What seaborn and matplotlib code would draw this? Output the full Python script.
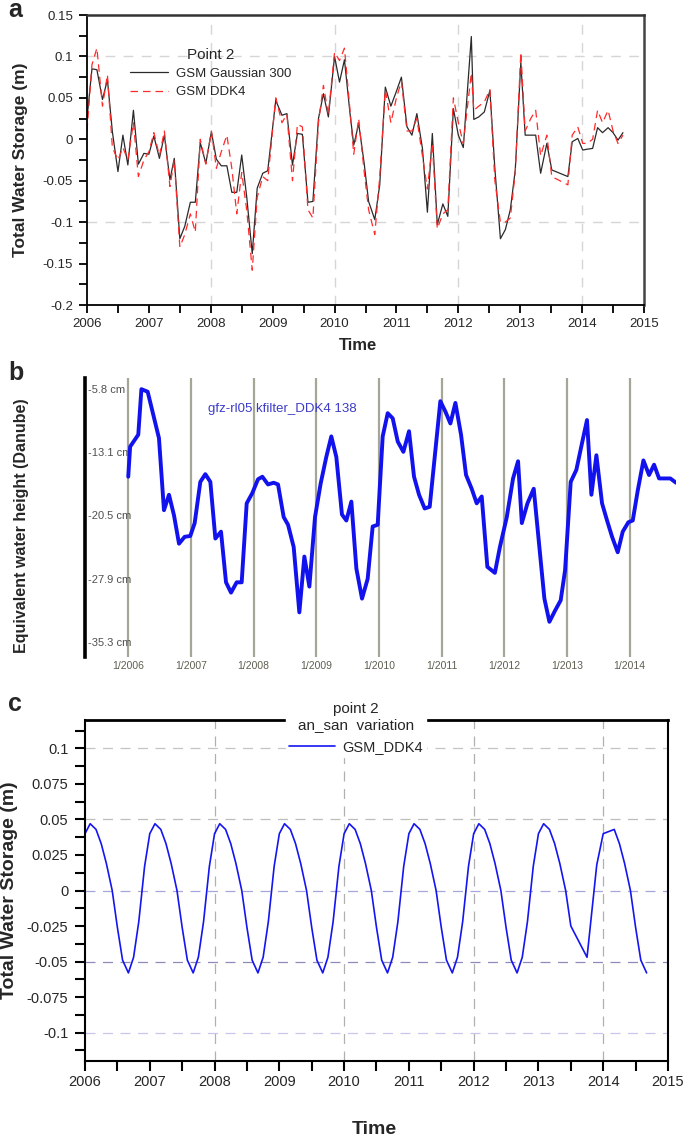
import matplotlib
matplotlib.use("Agg")
import matplotlib.pyplot as plt
import seaborn as sns
import pandas as pd

# ---------------- Panel a data ----------------
a_time = [2006.00, 2006.08, 2006.16, 2006.25, 2006.33, 2006.41, 2006.50, 2006.58, 2006.66, 2006.75, 2006.83, 2006.92,
          2007.00, 2007.08, 2007.17, 2007.25, 2007.34, 2007.41, 2007.50, 2007.58, 2007.67, 2007.75, 2007.83, 2007.92,
          2008.01, 2008.09, 2008.17, 2008.26, 2008.34, 2008.42, 2008.50, 2008.58, 2008.67, 2008.75, 2008.84, 2008.92,
          2009.05, 2009.15, 2009.23, 2009.32, 2009.40, 2009.48, 2009.57, 2009.65, 2009.74, 2009.82, 2009.90,
          2010.00, 2010.08, 2010.16, 2010.25, 2010.31, 2010.39, 2010.48, 2010.55, 2010.65, 2010.73, 2010.82, 2010.91,
          2011.00, 2011.08, 2011.17, 2011.25, 2011.33, 2011.42, 2011.50, 2011.58, 2011.66, 2011.75, 2011.83, 2011.92,
          2012.00, 2012.08, 2012.21, 2012.25, 2012.33, 2012.42, 2012.51, 2012.59, 2012.68, 2012.76, 2012.84, 2012.92,
          2013.01, 2013.08, 2013.17, 2013.25, 2013.33, 2013.43, 2013.51, 2013.77, 2013.84, 2013.93,
          2014.01, 2014.08, 2014.17, 2014.25, 2014.33, 2014.42, 2014.50, 2014.58, 2014.66]
a_gaussian300 = [0.025, 0.085, 0.084, 0.048, 0.072, 0.009, -0.039, 0.005, -0.031, 0.035, -0.030, -0.017,
                 -0.018, 0.004, -0.023, 0.005, -0.049, -0.023, -0.120, -0.105, -0.076, -0.076, -0.004, -0.029,
                 0.009, -0.024, -0.032, -0.032, -0.064, -0.064, -0.019, -0.069, -0.138, -0.059, -0.041, -0.038,
                 0.047, 0.029, 0.031, -0.031, 0.007, 0.006, -0.076, -0.075, 0.025, 0.055, 0.027,
                 0.100, 0.069, 0.096, 0.031, -0.007, 0.019, -0.030, -0.075, -0.097, -0.055, 0.063, 0.040,
                 0.058, 0.075, 0.015, 0.005, 0.031, -0.011, -0.088, 0.007, -0.103, -0.078, -0.093, 0.037,
                 0.005, -0.010, 0.124, 0.024, 0.027, 0.033, 0.059, -0.035, -0.120, -0.109, -0.085, -0.037,
                 0.093, 0.005, 0.005, 0.005, -0.041, -0.005, -0.037, -0.045, -0.003, 0.001,
                 -0.013, -0.012, -0.011, 0.014, 0.008, 0.014, 0.008, -0.001, 0.008]
a_ddk4 = [0.010, 0.090, 0.110, 0.040, 0.078, -0.010, -0.025, -0.010, -0.025, 0.020, -0.045, -0.025,
          -0.015, 0.008, -0.020, 0.010, -0.057, -0.025, -0.130, -0.115, -0.090, -0.112, 0.000, -0.030,
          0.010, -0.035, -0.015, 0.005, -0.035, -0.090, -0.040, -0.085, -0.158, -0.070, -0.045, -0.050,
          0.050, 0.020, 0.030, -0.050, 0.018, 0.015, -0.085, -0.095, 0.020, 0.065, 0.030,
          0.105, 0.095, 0.110, 0.035, -0.018, 0.025, -0.040, -0.085, -0.115, -0.045, 0.060, 0.020,
          0.050, 0.070, 0.010, 0.010, 0.025, -0.020, -0.060, -0.005, -0.108, -0.090, -0.085, 0.050,
          0.020, -0.005, 0.080, 0.035, 0.040, 0.045, 0.060, -0.050, -0.100, -0.100, -0.095, -0.040,
          0.105, 0.010, 0.025, 0.035, -0.020, 0.005, -0.045, -0.055, 0.005, 0.015,
          -0.005, -0.005, 0.000, 0.035, 0.020, 0.035, 0.010, -0.005, 0.005]
a_series_names = ["GSM Gaussian 300", "GSM DDK4"]
a_yticks = [0.15, 0.1, 0.05, 0, -0.05, -0.1, -0.15, -0.2]
a_yticklabels = ["0.15", "0.1", "0.05", "0", "-0.05", "-0.1", "-0.15", "-0.2"]
a_xticks = [2006, 2007, 2008, 2009, 2010, 2011, 2012, 2013, 2014, 2015]

# ---------------- Panel b data ----------------
b_time = [2006.00, 2006.03, 2006.16, 2006.21, 2006.31, 2006.40, 2006.49, 2006.57, 2006.65, 2006.73, 2006.81, 2006.90, 2006.99,
          2007.06, 2007.15, 2007.23, 2007.31, 2007.39, 2007.48, 2007.56, 2007.64, 2007.73, 2007.81, 2007.89, 2007.98,
          2008.07, 2008.14, 2008.23, 2008.32, 2008.39, 2008.48, 2008.55, 2008.64, 2008.73, 2008.81, 2008.89, 2008.98,
          2009.07, 2009.16, 2009.24, 2009.32, 2009.41, 2009.48, 2009.56, 2009.64, 2009.73, 2009.82, 2009.90, 2009.98,
          2010.06, 2010.14, 2010.22, 2010.30, 2010.39, 2010.48, 2010.56, 2010.64, 2010.73, 2010.81, 2010.98,
          2011.06, 2011.14, 2011.22, 2011.31, 2011.39, 2011.48, 2011.56, 2011.64, 2011.73, 2011.85, 2011.93,
          2012.04, 2012.14, 2012.22, 2012.28, 2012.37, 2012.47, 2012.56, 2012.64, 2012.72, 2012.81, 2012.90, 2012.97,
          2013.06, 2013.15, 2013.24, 2013.32, 2013.39, 2013.47, 2013.56, 2013.64, 2013.72, 2013.81, 2013.89, 2013.98,
          2014.05, 2014.13, 2014.22, 2014.31, 2014.39, 2014.47, 2014.57, 2014.65, 2014.74]
b_ewh_cm = [-16.0, -12.5, -11.1, -5.8, -6.1, -8.8, -11.5, -19.9, -18.1, -20.5, -23.8, -23.0, -22.9,
            -21.4, -16.6, -15.7, -16.6, -23.2, -22.4, -28.3, -29.5, -28.3, -28.3, -19.1, -17.9,
            -16.3, -16.0, -16.9, -16.7, -16.9, -20.7, -21.6, -24.2, -31.8, -25.3, -28.8, -20.7,
            -16.8, -13.7, -11.3, -13.7, -20.4, -21.1, -18.9, -26.7, -30.2, -27.9, -21.8, -21.6,
            -11.3, -8.6, -9.2, -11.9, -13.1, -10.7, -16.0, -18.1, -19.7, -19.5, -7.2,
            -8.4, -9.8, -7.4, -11.1, -15.8, -17.4, -19.1, -18.3, -26.5, -27.2, -24.2,
            -20.7, -16.2, -14.2, -21.4, -19.1, -17.4, -24.2, -30.2, -32.9, -31.6, -30.4, -26.9,
            -16.6, -15.2, -12.1, -9.4, -18.1, -13.5, -19.1, -21.1, -23.0, -24.8, -22.4, -21.3,
            -21.1, -17.6, -14.1, -15.8, -14.6, -16.2, -16.2, -16.2, -16.7]
b_series_name = "gfz-rl05 kfilter_DDK4 138"
b_yticks = [-5.8, -13.1, -20.5, -27.9, -35.3]
b_yticklabels = ["-5.8 cm", "-13.1 cm", "-20.5 cm", "-27.9 cm", "-35.3 cm"]
b_xticks = [2006, 2007, 2008, 2009, 2010, 2011, 2012, 2013, 2014]
b_xticklabels = ["1/2006", "1/2007", "1/2008", "1/2009", "1/2010", "1/2011", "1/2012", "1/2013", "1/2014"]

# ---------------- Panel c data ----------------
c_time = [2006.00, 2006.08, 2006.17, 2006.25, 2006.33, 2006.42, 2006.50, 2006.58, 2006.67, 2006.75, 2006.83, 2006.92,
          2007.00, 2007.08, 2007.17, 2007.25, 2007.33, 2007.42, 2007.50, 2007.58, 2007.67, 2007.75, 2007.83, 2007.92,
          2008.00, 2008.08, 2008.17, 2008.25, 2008.33, 2008.42, 2008.50, 2008.58, 2008.67, 2008.75, 2008.83, 2008.92,
          2009.00, 2009.08, 2009.17, 2009.25, 2009.33, 2009.42, 2009.50, 2009.58, 2009.67, 2009.75, 2009.83, 2009.92,
          2010.00, 2010.08, 2010.17, 2010.25, 2010.33, 2010.42, 2010.50, 2010.58, 2010.67, 2010.75, 2010.83, 2010.92,
          2011.00, 2011.08, 2011.17, 2011.25, 2011.33, 2011.42, 2011.50, 2011.58, 2011.67, 2011.75, 2011.83, 2011.92,
          2012.00, 2012.08, 2012.17, 2012.25, 2012.33, 2012.42, 2012.50, 2012.58, 2012.67, 2012.75, 2012.83, 2012.92,
          2013.00, 2013.08, 2013.17, 2013.25, 2013.33, 2013.42, 2013.50, 2013.75, 2013.90,
          2014.00, 2014.17, 2014.25, 2014.33, 2014.42, 2014.50, 2014.58, 2014.67]
c_ddk4 = [0.040, 0.047, 0.043, 0.033, 0.019, 0.000, -0.026, -0.049, -0.058, -0.047, -0.022, 0.017,
          0.040, 0.047, 0.043, 0.033, 0.019, 0.000, -0.026, -0.049, -0.058, -0.047, -0.022, 0.017,
          0.040, 0.047, 0.043, 0.033, 0.019, 0.000, -0.026, -0.049, -0.058, -0.047, -0.022, 0.017,
          0.040, 0.047, 0.043, 0.033, 0.019, 0.000, -0.026, -0.049, -0.058, -0.047, -0.022, 0.017,
          0.040, 0.047, 0.043, 0.033, 0.019, 0.000, -0.026, -0.049, -0.058, -0.047, -0.022, 0.017,
          0.040, 0.047, 0.043, 0.033, 0.019, 0.000, -0.026, -0.049, -0.058, -0.047, -0.022, 0.017,
          0.040, 0.047, 0.043, 0.033, 0.019, 0.000, -0.026, -0.049, -0.058, -0.047, -0.022, 0.017,
          0.040, 0.047, 0.043, 0.033, 0.019, 0.000, -0.025, -0.047, 0.018,
          0.040, 0.043, 0.033, 0.019, 0.000, -0.026, -0.049, -0.058]
c_series_name = "GSM_DDK4"
c_yticks = [0.1, 0.075, 0.05, 0.025, 0, -0.025, -0.05, -0.075, -0.1]
c_yticklabels = ["0.1", "0.075", "0.05", "0.025", "0", "-0.025", "-0.05", "-0.075", "-0.1"]
c_yminor = [0.1125, 0.0875, 0.0625, 0.0375, 0.0125, -0.0125, -0.0375, -0.0625, -0.0875, -0.1125]
c_xticks = [2006, 2007, 2008, 2009, 2010, 2011, 2012, 2013, 2014, 2015]

# ---------------- Figure ----------------
sns.set_style("ticks")
plt.rcParams["font.family"] = ["Liberation Sans", "DejaVu Sans"]
plt.rcParams["axes.unicode_minus"] = False

W, H = 685, 1140
fig = plt.figure(figsize=(W / 100, H / 100), dpi=100)


def fr(x0, y0, x1, y1):
    return [x0 / W, 1 - y1 / H, (x1 - x0) / W, (y1 - y0) / H]


# ======== Panel a ========
ax = fig.add_axes(fr(87, 15, 644, 305))
df_a = pd.DataFrame({"Time": a_time * 2,
                     "TWS": a_gaussian300 + a_ddk4,
                     "series": [a_series_names[0]] * len(a_time) + [a_series_names[1]] * len(a_time)})
for yv in [0.1, -0.1]:
    ax.axhline(yv, color="#d6d6d6", lw=1.0, ls=(0, (7, 6)), zorder=0)
for xv in [2008, 2010, 2012, 2014]:
    ax.axvline(xv, color="#d6d6d6", lw=1.0, ls=(0, (7, 6)), zorder=0)
sns.lineplot(data=df_a[df_a.series == a_series_names[0]], x="Time", y="TWS", ax=ax,
             color="#2a2a2a", lw=0.9, label=a_series_names[0], estimator=None)
sns.lineplot(data=df_a[df_a.series == a_series_names[1]], x="Time", y="TWS", ax=ax,
             color="#ff2a2a", lw=0.9, ls=(0, (6, 4)), label=a_series_names[1], estimator=None)
ax.set_xlim(2006, 2015)
ax.set_ylim(-0.2, 0.15)
ax.set_yticks(a_yticks)
ax.set_yticklabels(a_yticklabels)
ax.set_yticks([v + 0.025 for v in a_yticks[1:]], minor=True)
ax.set_xticks(a_xticks)
ax.set_xticklabels([str(v) for v in a_xticks])
ax.set_xticks([v + 0.5 for v in a_xticks[:-1]], minor=True)
ax.tick_params(which="both", direction="out", length=6, width=1.3, color="black")
ax.tick_params(axis="y", which="major", labelsize=9.5, pad=4)
ax.tick_params(axis="x", which="major", labelsize=9.5, pad=3)
for s in ax.spines.values():
    s.set_linewidth(1.3)
    s.set_color("black")
ax.spines["top"].set_linewidth(1.8)
ax.spines["top"].set_color("#333333")
ax.spines["right"].set_linewidth(1.8)
ax.spines["right"].set_color("#444444")
ax.set_ylabel("Total Water Storage (m)", fontsize=12.5, fontweight="bold")
ax.yaxis.set_label_coords(-0.106, 0.5)
ax.set_xlabel("Time", fontsize=12, fontweight="bold", va="top")
ax.xaxis.set_label_coords(0.487, -0.115)
leg = ax.legend(title="Point 2", frameon=False, loc="upper left",
                bbox_to_anchor=(118 / W, 1 - 36 / H), bbox_transform=fig.transFigure,
                fontsize=9.5, title_fontsize=11, handlelength=2.9, handletextpad=0.6,
                labelspacing=0.45)

# ======== Panel b ========
bx = fig.add_axes(fr(85, 378, 676, 657))
df_b = pd.DataFrame({"Time": b_time, "EWH": b_ewh_cm})
bx.set_xlim(2005.31, 2014.74)
bx.set_ylim(-37.0, -4.5)
for xv in b_xticks:
    bx.axvline(xv, color="#a6a696", lw=1.6, zorder=0)
sns.lineplot(data=df_b, x="Time", y="EWH", ax=bx, color="#1212ee", lw=2.8,
             estimator=None, zorder=3)
bx.set_xticks(b_xticks)
bx.set_xticklabels(b_xticklabels, fontsize=7.5, color="#5e5e50")
bx.tick_params(axis="x", length=0, pad=3)
bx.set_yticks(b_yticks)
bx.set_yticklabels(b_yticklabels, fontsize=8, color="#505050")
bx.tick_params(axis="y", direction="in", length=0, pad=-2)
for lab in bx.get_yticklabels():
    lab.set_horizontalalignment("left")
for side in ["top", "right", "bottom"]:
    bx.spines[side].set_visible(False)
bx.spines["left"].set_linewidth(2.6)
bx.spines["left"].set_color("black")
bx.text(0.208, 0.89, b_series_name, transform=bx.transAxes, fontsize=9.5,
        color="#3c3cc8", va="center", ha="left")
bx.set_ylabel("Equivalent water height (Danube)", fontsize=11.5, fontweight="bold")
bx.yaxis.set_label_coords(-0.095, 0.47)
bx.set_xlabel("")

# ======== Panel c ========
cx = fig.add_axes(fr(85, 720, 668, 1061))
df_c = pd.DataFrame({"Time": c_time, "TWS": c_ddk4})
hgrid_colors = {0.1: "#c4c4c4", 0.05: "#bdbdbd", 0: "#a6a6dc", -0.05: "#8c8cb8", -0.1: "#c6c6ee"}
for yv, col in hgrid_colors.items():
    cx.axhline(yv, color=col, lw=0.9, ls=(0, (8, 6)), zorder=0)
for xv in [2008, 2010, 2012, 2014]:
    cx.axvline(xv, color="#b0b0b0", lw=0.9, ls=(0, (8, 6)), zorder=0)
sns.lineplot(data=df_c, x="Time", y="TWS", ax=cx, color="#1515f0", lw=1.2,
             label=c_series_name, estimator=None)
cx.set_xlim(2006, 2015)
cx.set_ylim(-0.12, 0.12)
cx.set_yticks(c_yticks)
cx.set_yticklabels(c_yticklabels)
cx.set_yticks(c_yminor, minor=True)
cx.set_xticks(c_xticks)
cx.set_xticklabels([str(v) for v in c_xticks])
cx.set_xticks([v + 0.5 for v in c_xticks[:-1]], minor=True)
cx.tick_params(which="both", direction="out", length=7, width=1.5, color="black")
cx.tick_params(axis="y", which="major", labelsize=10.5, pad=5)
cx.tick_params(axis="x", which="major", labelsize=10.5, pad=3)
for s in cx.spines.values():
    s.set_linewidth(1.5)
    s.set_color("black")
cx.spines["top"].set_linewidth(2.0)
cx.set_ylabel("Total Water Storage (m)", fontsize=14, fontweight="bold")
cx.yaxis.set_label_coords(-0.115, 0.5)
cx.set_xlabel("Time", fontsize=14, fontweight="bold", va="top")
cx.xaxis.set_label_coords(0.497, -0.175)
cleg = cx.legend(title="point 2\nan_san  variation", loc="upper center",
                 bbox_to_anchor=(356 / W, 1 - 692 / H), bbox_transform=fig.transFigure,
                 frameon=True, facecolor="white", edgecolor="white", framealpha=1,
                 fancybox=False, fontsize=10.5, title_fontsize=11, handlelength=3.2,
                 borderpad=0.2, handletextpad=0.5)
cleg.get_title().set_multialignment("center")
cleg.set_zorder(10)

# ======== Panel letters ========
fig.text(8 / W, 1 - 17 / H, "a", fontsize=18, fontweight="bold", va="baseline")
fig.text(8 / W, 1 - 380 / H, "b", fontsize=18, fontweight="bold", va="baseline")
fig.text(8 / W, 1 - 711 / H, "c", fontsize=18, fontweight="bold", va="baseline")

fig.savefig("out.png", dpi=100)
